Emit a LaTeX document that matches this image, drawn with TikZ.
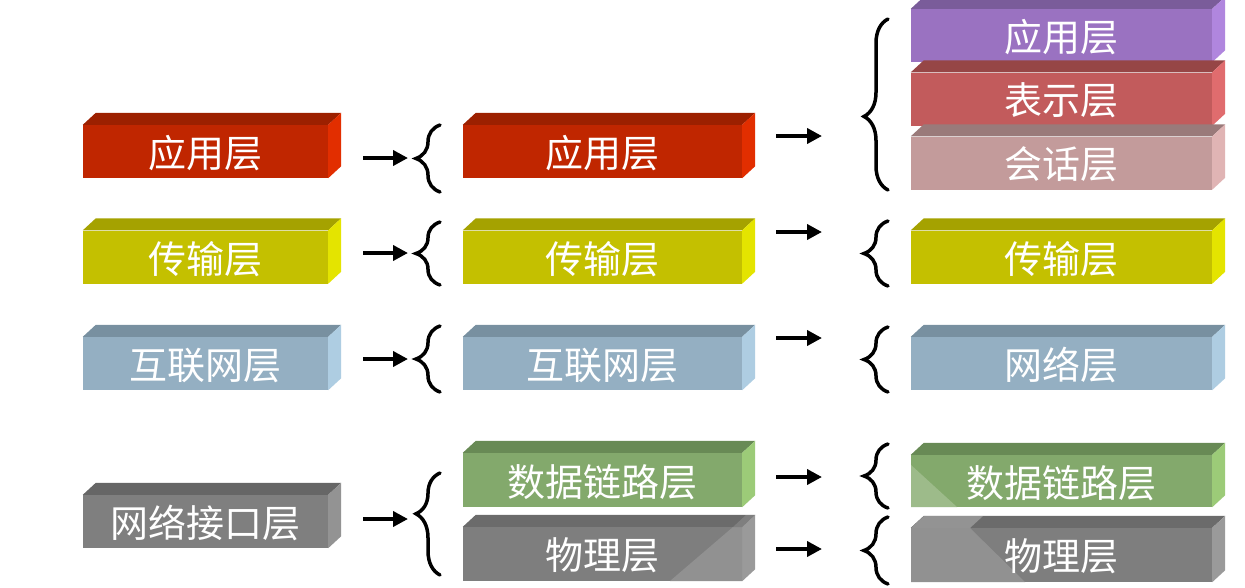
\documentclass[tikz,border=0pt]{standalone}
\usepackage{fontspec}
\newfontfamily\cjk{Noto Sans CJK SC}
\usetikzlibrary{arrows.meta,decorations.pathreplacing}
\definecolor{redF}{HTML}{C02600}\definecolor{redT}{HTML}{9C2000}\definecolor{redS}{HTML}{E22E00}
\definecolor{yelF}{HTML}{C4C000}\definecolor{yelT}{HTML}{A5A200}\definecolor{yelS}{HTML}{E4E400}
\definecolor{bluF}{HTML}{94AFC2}\definecolor{bluT}{HTML}{7890A0}\definecolor{bluS}{HTML}{AECDE2}
\definecolor{gryF}{HTML}{7F7F7F}\definecolor{gryT}{HTML}{666666}\definecolor{gryS}{HTML}{939393}
\definecolor{purF}{HTML}{9A72C1}\definecolor{purT}{HTML}{7A5C9A}\definecolor{purS}{HTML}{B086DE}
\definecolor{preF}{HTML}{C25B5C}\definecolor{preT}{HTML}{964646}\definecolor{preS}{HTML}{E06C6E}
\definecolor{sesF}{HTML}{C39B9B}\definecolor{sesT}{HTML}{9A7A7A}\definecolor{sesS}{HTML}{E0B4B4}
\definecolor{grnF}{HTML}{83A96C}\definecolor{grnT}{HTML}{688A55}\definecolor{grnS}{HTML}{9CCB78}
\definecolor{grnL}{HTML}{9DBB8A}
\definecolor{phyF}{HTML}{7E7E7E}\definecolor{phyT}{HTML}{6B6B6B}\definecolor{phyS}{HTML}{9A9A9A}
\definecolor{phyL}{HTML}{919191}
\newcommand\boxfaces[3]{%
  \fill[#2] (#1.north west) -- ++(13pt,12pt) -- ([xshift=13pt,yshift=12pt]#1.north east) -- (#1.north east) -- cycle;
  \fill[#3] (#1.north east) -- ++(13pt,12pt) -- ([xshift=13pt,yshift=12pt]#1.south east) -- (#1.south east) -- cycle;}
\begin{document}
\begin{tikzpicture}[x=1pt,y=-1pt,
  layer/.style={inner sep=0pt, minimum height=53pt, text=white,
     font=\cjk\fontsize{38}{42}\selectfont, text depth=0pt},
  c1/.style={layer, minimum width=245pt},
  c2/.style={layer, minimum width=279pt},
  c3/.style={layer, minimum width=301pt},
  arr/.style={line width=4.5pt, -{Triangle[length=15pt,width=15pt]}},
  brc/.style={line width=3.5pt, line cap=round, decorate,
     decoration={brace, amplitude=24pt}}]
\useasboundingbox (0,0) rectangle (1245,587);
\fill[white] (0,0) rectangle (1245,587);

% column 1
\node[c1, fill=redF] (a1) at (205.5,151.5) {应用层};
\boxfaces{a1}{redT}{redS}
\node[c1, fill=yelF] (t1) at (205.5,257) {传输层};
\boxfaces{t1}{yelT}{yelS}
\node[c1, fill=bluF] (i1) at (205.5,363.5) {互联网层};
\boxfaces{i1}{bluT}{bluS}
\node[c1, fill=gryF] (n1) at (205.5,521.5) {网络接口层};
\boxfaces{n1}{gryT}{gryS}

% column 2
\node[c2, fill=redF] (a2) at (602.5,151.5) {应用层};
\boxfaces{a2}{redT}{redS}
\node[c2, fill=yelF] (t2) at (602.5,257) {传输层};
\boxfaces{t2}{yelT}{yelS}
\node[c2, fill=bluF] (i2) at (602.5,363.5) {互联网层};
\boxfaces{i2}{bluT}{bluS}
\node[c2, fill=grnF, minimum height=54pt] (d2) at (602.5,480) {数据链路层};
\boxfaces{d2}{grnT}{grnS}
\node[c2, fill=phyF, minimum height=54pt] (p2) at (602.5,554) {};
\boxfaces{p2}{phyT}{phyS}
\fill[phyL] (670,581) -- (733,527) -- (742,527) -- (742,581) -- cycle;
\fill[gryF] (733,527) -- (746,515) -- (755,515) -- (742,527) -- cycle;
\node[layer] at (p2.center) {物理层};

% column 3
\node[c3, fill=purF] (a3) at (1061.5,35.5) {应用层};
\boxfaces{a3}{purT}{purS}
\node[c3, fill=preF] (s3) at (1061.5,99) {表示层};
\boxfaces{s3}{preT}{preS}
\node[c3, fill=sesF] (h3) at (1061.5,163) {会话层};
\boxfaces{h3}{sesT}{sesS}
\node[c3, fill=yelF] (t3) at (1061.5,257) {传输层};
\boxfaces{t3}{yelT}{yelS}
\node[c3, fill=bluF] (w3) at (1061.5,363.5) {网络层};
\boxfaces{w3}{bluT}{bluS}
\node[c3, fill=grnF, minimum height=52pt] (d3) at (1061.5,481) {};
\boxfaces{d3}{grnT}{grnS}
\fill[grnL] (911,465) -- (957,507) -- (911,507) -- cycle;
\node[layer] at (d3.center) {数据链路层};
\node[c3, fill=phyF, minimum height=54pt] (p3) at (1061.5,555) {};
\boxfaces{p3}{phyT}{phyS}
\fill[phyL] (911,528) -- (970,528) -- (1025,582) -- (911,582) -- cycle;
\fill[gryS] (911,528) -- (924,516) -- (983,516) -- (970,528) -- cycle;
\node[layer] at (p3.center) {物理层};

% arrows column 1 -> 2
\coordinate (s1) at (363,158); \coordinate (e1) at (408,158);
\coordinate (s2) at (363,253); \coordinate (e2) at (408,253);
\coordinate (s3x) at (363,359); \coordinate (e3) at (408,359);
\coordinate (s4) at (363,519); \coordinate (e4) at (408,519);
\draw[arr] (s1) -- (e1);
\draw[arr] (s2) -- (e2);
\draw[arr] (s3x) -- (e3);
\draw[arr] (s4) -- (e4);

% braces column 2
\coordinate (b1a) at (440,192); \coordinate (b1b) at (440,125);
\coordinate (b2a) at (440,285); \coordinate (b2b) at (440,222);
\coordinate (b3a) at (440,392); \coordinate (b3b) at (440,326);
\coordinate (b4a) at (440,575); \coordinate (b4b) at (440,473);
\draw[brc] (b1a) -- (b1b);
\draw[brc] (b2a) -- (b2b);
\draw[brc] (b3a) -- (b3b);
\draw[brc, decoration={brace, amplitude=24pt, aspect=0.6}] (b4a) -- (b4b);

% arrows column 2 -> 3
\coordinate (u1) at (776,136); \coordinate (v1) at (822,136);
\coordinate (u2) at (776,232); \coordinate (v2) at (822,232);
\coordinate (u3) at (776,338); \coordinate (v3) at (822,338);
\coordinate (u4) at (776,477); \coordinate (v4) at (822,477);
\coordinate (u5) at (776,549); \coordinate (v5) at (822,549);
\draw[arr] (u1) -- (v1);
\draw[arr] (u2) -- (v2);
\draw[arr] (u3) -- (v3);
\draw[arr] (u4) -- (v4);
\draw[arr] (u5) -- (v5);

% braces column 3
\coordinate (c1a) at (888,190); \coordinate (c1b) at (888,19);
\coordinate (c2a) at (888,286); \coordinate (c2b) at (888,221);
\coordinate (c3a) at (888,392); \coordinate (c3b) at (888,327);
\coordinate (c4a) at (888,508); \coordinate (c4b) at (888,444);
\coordinate (c5a) at (888,584); \coordinate (c5b) at (888,517);
\draw[brc, decoration={brace, amplitude=24pt, aspect=0.43}] (c1a) -- (c1b);
\draw[brc] (c2a) -- (c2b);
\draw[brc] (c3a) -- (c3b);
\draw[brc] (c4a) -- (c4b);
\draw[brc] (c5a) -- (c5b);
\end{tikzpicture}
\end{document}
